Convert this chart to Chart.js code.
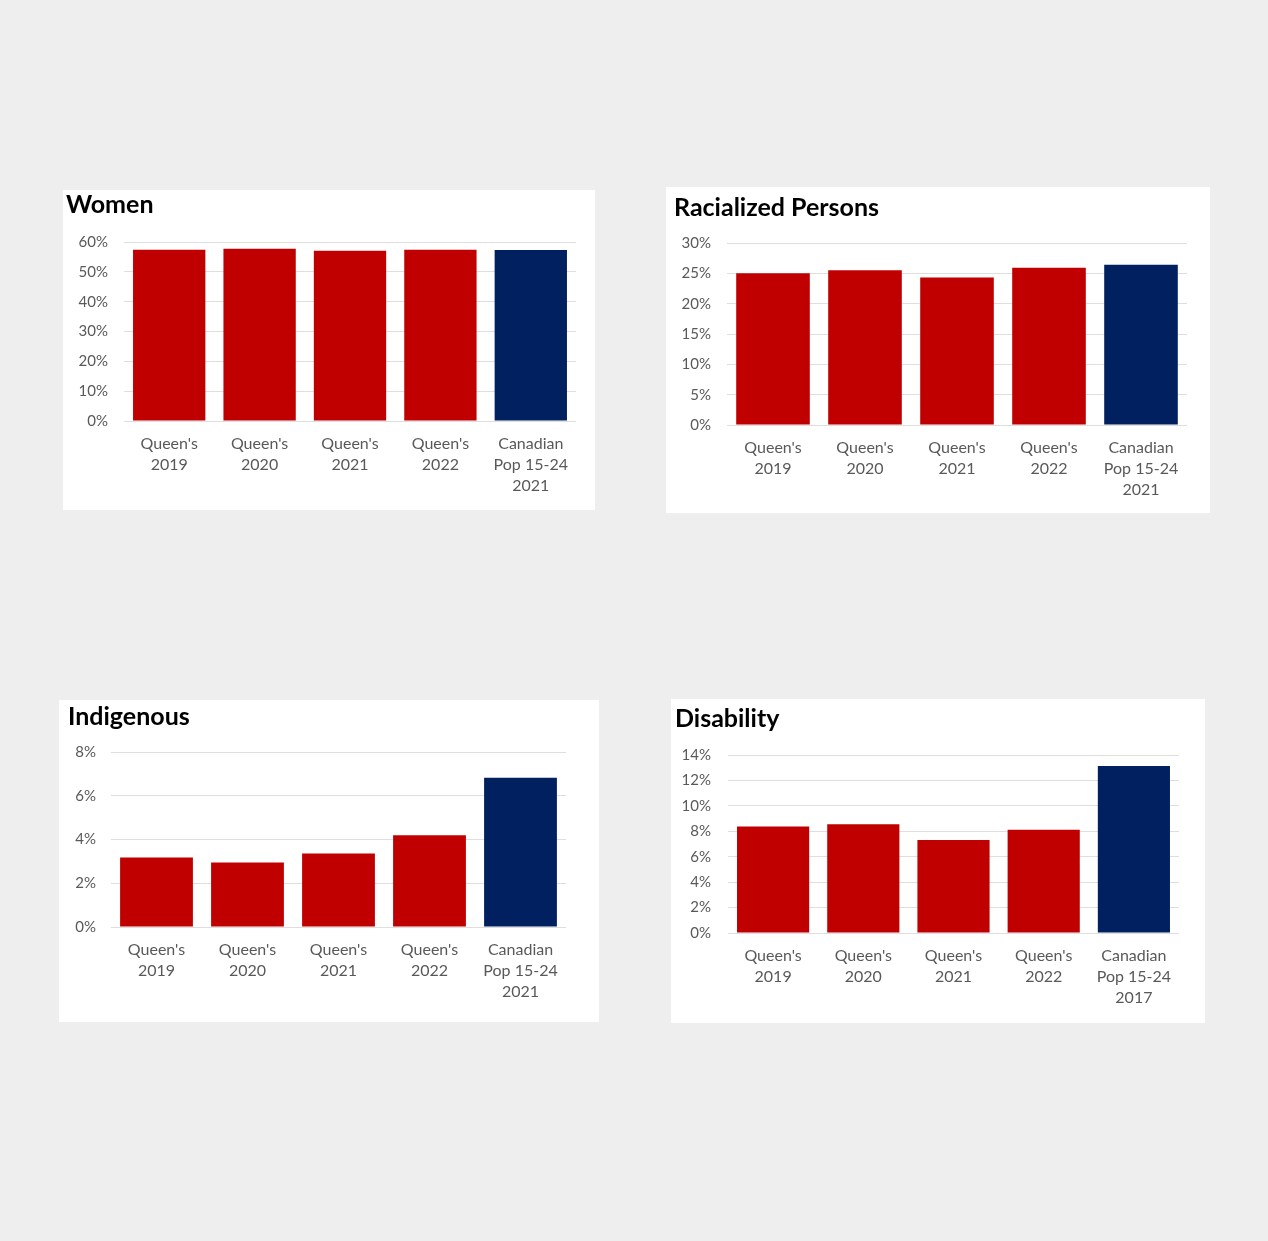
<!DOCTYPE html>
<html>
<head>
<meta charset="utf-8">
<script src="https://cdn.jsdelivr.net/npm/chart.js@4.4.1/dist/chart.umd.min.js"></script>
<style>
  html, body { margin: 0; padding: 0; background: #eeeeee; }
  body { width: 1268px; height: 1241px; position: relative; overflow: hidden; }
  .panel { position: absolute; background: #ffffff; }
  .panel canvas { display: block; }
</style>
</head>
<body>
<div class="panel" id="p-women" style="left:63px;top:190px;width:532px;height:320px"><canvas id="women"></canvas></div>
<div class="panel" id="p-racialized" style="left:666px;top:187px;width:544px;height:326px"><canvas id="racialized"></canvas></div>
<div class="panel" id="p-indigenous" style="left:59px;top:700px;width:540px;height:322px"><canvas id="indigenous"></canvas></div>
<div class="panel" id="p-disability" style="left:671px;top:699px;width:534px;height:324px"><canvas id="disability"></canvas></div>

<script>
// Dados (em %)
const categorias2021 = [["Queen's", "2019"], ["Queen's", "2020"], ["Queen's", "2021"], ["Queen's", "2022"], ["Canadian", "Pop 15-24", "2021"]];
const categorias2017 = [["Queen's", "2019"], ["Queen's", "2020"], ["Queen's", "2021"], ["Queen's", "2022"], ["Canadian", "Pop 15-24", "2017"]];

const womenValues = [57.4, 57.7, 57.1, 57.4, 57.3];
const racializedValues = [25.0, 25.5, 24.3, 25.9, 26.4];
const indigenousValues = [3.18, 2.95, 3.36, 4.19, 6.82];
const disabilityValues = [8.37, 8.55, 7.32, 8.13, 13.13];

const barColors = ['#C00000', '#C00000', '#C00000', '#C00000', '#002060'];

// Layout de cada painel: area do grafico relativa ao painel
function criarGrafico(id, titulo, labels, values, yMax, step, box) {
  const canvas = document.getElementById(id);
  const panel = canvas.parentElement;
  const w = panel.offsetWidth, h = panel.offsetHeight;
  canvas.width = w;
  canvas.height = h;

  const titleSize = 25;
  const titleLine = titleSize * 1.2;
  const padTop = Math.max(0, box.titleCenter - titleLine / 2);

  new Chart(canvas, {
    type: 'bar',
    data: {
      labels: labels,
      datasets: [{
        data: values,
        backgroundColor: barColors,
        borderWidth: 0,
        barPercentage: 0.8,
        categoryPercentage: 1.0
      }]
    },
    options: {
      responsive: false,
      animation: false,
      layout: {
        padding: { left: box.titleX, right: w - box.right, top: 0, bottom: 0 }
      },
      plugins: {
        legend: { display: false },
        tooltip: { enabled: false },
        title: {
          display: true,
          text: titulo,
          align: 'start',
          color: '#000000',
          font: { family: 'Lato', size: titleSize, weight: 'bold', lineHeight: 1.2 },
          padding: { top: padTop, bottom: box.top - padTop - titleLine }
        }
      },
      scales: {
        x: {
          grid: { display: false },
          border: { display: false },
          ticks: {
            color: '#595959',
            font: { family: 'Lato', size: 16, lineHeight: 1.32 },
            padding: 4,
            maxRotation: 0,
            autoSkip: false
          },
          afterFit: s => { s.height = h - box.bottom; }
        },
        y: {
          min: 0,
          max: yMax,
          grid: { color: '#dedede', lineWidth: 1, drawTicks: false },
          border: { display: false },
          ticks: {
            stepSize: step,
            color: '#595959',
            font: { family: 'Lato', size: 15 },
            padding: box.tickPad,
            callback: v => v + '%'
          },
          afterFit: s => { s.width = box.left - box.titleX; }
        }
      }
    }
  });
}

criarGrafico('women', 'Women', categorias2021, womenValues, 60, 10,
  { titleX: 3, titleCenter: 13, left: 61, right: 513, top: 52, bottom: 231, tickPad: 16 });
criarGrafico('racialized', 'Racialized Persons', categorias2021, racializedValues, 30, 5,
  { titleX: 8, titleCenter: 21, left: 61, right: 521, top: 56, bottom: 238, tickPad: 16 });
criarGrafico('indigenous', 'Indigenous', categorias2021, indigenousValues, 8, 2,
  { titleX: 9, titleCenter: 17, left: 52, right: 507, top: 52, bottom: 227, tickPad: 15 });
criarGrafico('disability', 'Disability', categorias2017, disabilityValues, 14, 2,
  { titleX: 4, titleCenter: 20, left: 57, right: 508, top: 56, bottom: 234, tickPad: 17 });
</script>
</body>
</html>
